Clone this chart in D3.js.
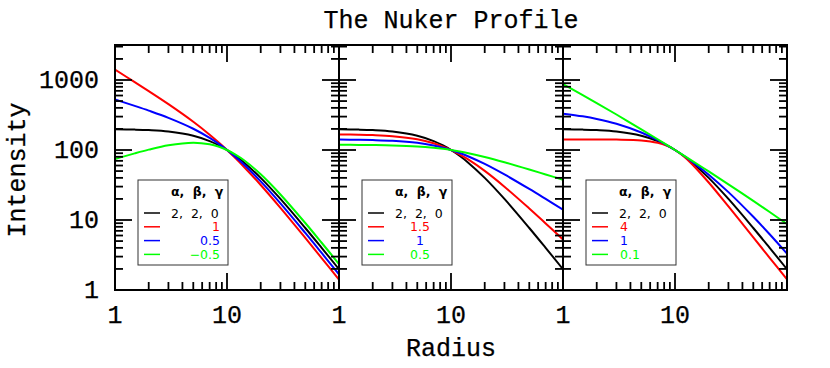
<!DOCTYPE html>
<html>
<head>
<meta charset="utf-8">
<script src="https://cdn.jsdelivr.net/npm/d3@7"></script>
<style>
  body { margin: 0; background: #fff; }
  svg { display: block; }
  .big { font-family: "Liberation Mono", monospace; font-size: 25px; fill: #000; stroke: #000; stroke-width: 0.25px; }
  .leg { font-family: "DejaVu Sans", sans-serif; font-size: 12.5px; word-spacing: 4px; }
</style>
</head>
<body>
<svg id="chart" width="830" height="368"></svg>
<script>
var radius = [1, 1.5, 2, 3, 5, 7, 8.5, 10, 12, 14, 20, 30, 50, 70, 100]

// alpha, beta, gamma = 2, 2, 0 (black, in every panel)
var base = [198.0, 195.6, 192.3, 183.5, 160.0, 134.2, 116.1, 100, 81.97, 67.6, 40.0, 20.0, 7.69, 4.0, 1.98]

// panel 1: gamma changes
var gamma1 = [1407, 932.4, 693.4, 451.5, 253.0, 165.5, 126.8, 100, 75.45, 58.7, 31.62, 14.91, 5.547, 2.857, 1.407]
var gamma05 = [527.9, 427.0, 365.2, 287.8, 201.2, 149.0, 121.3, 100, 78.64, 63.0, 35.57, 17.27, 6.532, 3.381, 1.669]
var gammaM05 = [74.28, 89.59, 101.3, 116.97, 127.24, 120.88, 111.12, 100, 85.43, 72.48, 44.99, 23.17, 9.059, 4.733, 2.350]

// panel 2: beta changes
var beta15 = [166.93, 165.40, 163.30, 157.65, 142.26, 124.70, 111.85, 100, 86.15, 74.52, 50.30, 29.91, 14.61, 8.944, 5.279]
var beta1 = [140.72, 139.86, 138.68, 135.46, 126.49, 115.86, 107.75, 100, 90.54, 82.20, 63.25, 44.72, 27.74, 20.00, 14.07]
var beta05 = [118.63, 118.26, 117.76, 116.39, 112.47, 107.63, 103.80, 100, 95.15, 90.66, 79.53, 66.87, 52.67, 44.72, 37.51]

// panel 3: alpha changes
var alpha4 = [141.41, 141.39, 141.31, 140.85, 137.20, 127.00, 114.63, 100, 80.67, 64.27, 34.30, 15.62, 5.652, 2.886, 1.414]
var alpha1 = [330.6, 302.5, 277.8, 236.7, 177.8, 138.4, 116.87, 100, 82.64, 69.44, 44.44, 25.0, 11.11, 6.25, 3.306]
var alpha01 = [876.1, 609.4, 468.7, 321.4, 197.6, 142.4, 117.58, 100, 83.27, 71.24, 49.42, 32.35, 18.75, 13.00, 8.763]

var legendTitle = "α, β, γ"
var baseLabel = "2, 2, 0"
var panelSeries = [[gamma1, gamma05, gammaM05], [beta15, beta1, beta05], [alpha4, alpha1, alpha01]]
var panelLabels = [["1", "0.5", "−0.5"], ["1.5", "1", "0.5"], ["4", "1", "0.1"]]
var colors = ["#000000", "#ff0000", "#0000ff", "#00ff00"]

var xLabelTicks = [1, 10]
var yLabelTicks = [1, 10, 100, 1000]

var svg = d3.select("#chart")

var plotLeft = 115, plotTop = 45, panelW = 224, plotBottom = 290
var y = d3.scaleLog().domain([1, 3162]).range([plotBottom, plotTop])

function isMajor(v) {
  var l = Math.log10(v)
  return Math.abs(l - Math.round(l)) < 1e-6
}

// legend text placement per panel: offset from box left and anchor
var legendAnchor = [[82, "end"], [58, "middle"], [34, "start"]]

var line = d3.line().curve(d3.curveCatmullRom.alpha(0.5))

panelSeries.forEach(function(series, p) {
  var x0 = plotLeft + panelW * p
  var x = d3.scaleLog().domain([1, 100]).range([x0, x0 + panelW])
  var g = svg.append("g")

  g.append("clipPath").attr("id", "clip" + p)
    .append("rect").attr("x", x0).attr("y", plotTop).attr("width", panelW).attr("height", plotBottom - plotTop)

  var curves = [base].concat(series)
  curves.forEach(function(vals, k) {
    var pts = radius.map(function(r, i) { return [x(r), y(vals[i])] })
    g.append("path")
      .attr("d", line(pts))
      .attr("clip-path", "url(#clip" + p + ")")
      .attr("fill", "none")
      .attr("stroke", colors[k])
      .attr("stroke-width", 2)
  })

  // x ticks, bottom and top
  x.ticks().forEach(function(t) {
    var len = isMajor(t) ? 17 : 8
    g.append("line").attr("x1", x(t)).attr("x2", x(t)).attr("y1", plotBottom).attr("y2", plotBottom - len)
      .attr("stroke", "#000").attr("stroke-width", 1.8)
    g.append("line").attr("x1", x(t)).attr("x2", x(t)).attr("y1", plotTop).attr("y2", plotTop + len)
      .attr("stroke", "#000").attr("stroke-width", 1.8)
  })

  // y ticks, left and right
  y.ticks().forEach(function(t) {
    var len = isMajor(t) ? 17 : 8
    g.append("line").attr("x1", x0).attr("x2", x0 + len).attr("y1", y(t)).attr("y2", y(t))
      .attr("stroke", "#000").attr("stroke-width", 1.8)
    g.append("line").attr("x1", x0 + panelW).attr("x2", x0 + panelW - len).attr("y1", y(t)).attr("y2", y(t))
      .attr("stroke", "#000").attr("stroke-width", 1.8)
  })

  g.append("rect").attr("x", x0).attr("y", plotTop).attr("width", panelW).attr("height", plotBottom - plotTop)
    .attr("fill", "none").attr("stroke", "#000").attr("stroke-width", 2)

  xLabelTicks.forEach(function(t) {
    g.append("text").attr("class", "big").attr("x", x(t)).attr("y", 323)
      .attr("text-anchor", "middle").text(t)
  })

  // legend box
  var bx = x0 + 23
  var leg = g.append("g")
  leg.append("rect").attr("x", bx).attr("y", 180).attr("width", 90).attr("height", 85)
    .attr("fill", "none").attr("stroke", "#333").attr("stroke-width", 1)
  leg.append("text").attr("class", "leg").attr("x", bx + 33).attr("y", 196)
    .attr("font-weight", "bold").text(legendTitle)

  var labels = [baseLabel].concat(panelLabels[p])
  labels.forEach(function(lab, k) {
    var cy = 213 + k * 13.8
    leg.append("line").attr("x1", bx + 6).attr("x2", bx + 22).attr("y1", cy).attr("y2", cy)
      .attr("stroke", colors[k]).attr("stroke-width", 1.5)
    var tx = k == 0 ? bx + 33 : bx + legendAnchor[p][0]
    var anchor = k == 0 ? "start" : legendAnchor[p][1]
    leg.append("text").attr("class", "leg").attr("x", tx).attr("y", cy + 4.5)
      .attr("text-anchor", anchor).attr("fill", colors[k]).text(lab)
  })
})

yLabelTicks.forEach(function(t) {
  svg.append("text").attr("class", "big").attr("x", 99).attr("y", y(t) + 8)
    .attr("text-anchor", "end").text(t)
})

svg.append("text").attr("class", "big").attr("x", 451).attr("y", 28)
  .attr("text-anchor", "middle").text("The Nuker Profile")
svg.append("text").attr("class", "big").attr("x", 451).attr("y", 356)
  .attr("text-anchor", "middle").text("Radius")
svg.append("text").attr("class", "big").attr("transform", "translate(25,170) rotate(-90)")
  .attr("text-anchor", "middle").text("Intensity")
</script>
</body>
</html>
